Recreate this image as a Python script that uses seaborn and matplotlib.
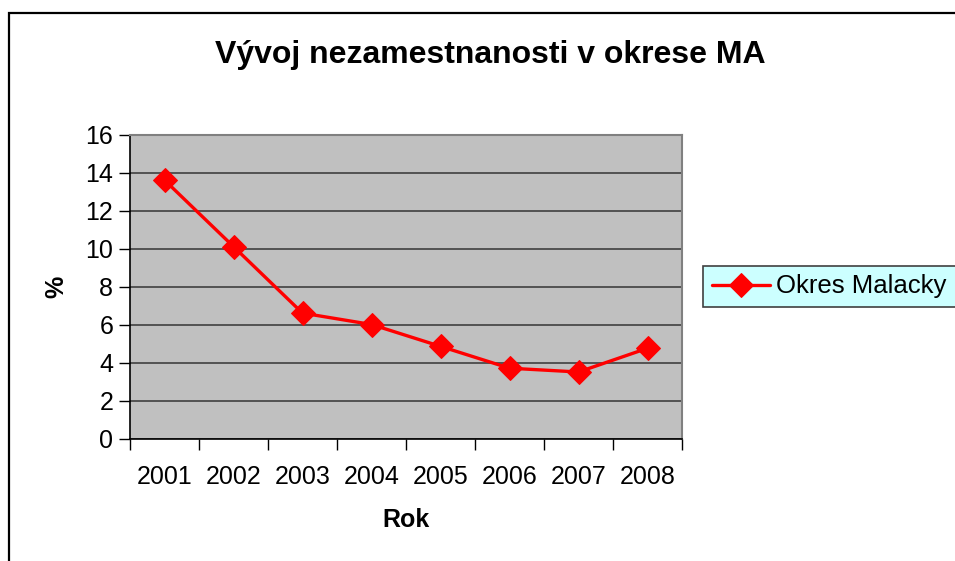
import matplotlib
matplotlib.use('Agg')
import matplotlib.pyplot as plt
import seaborn as sns
import pandas as pd
from matplotlib.patches import Rectangle

# data
years = ['2001', '2002', '2003', '2004', '2005', '2006', '2007', '2008']
unemployment = [13.6, 10.1, 6.6, 6.0, 4.85, 3.7, 3.5, 4.75]
series_name = 'Okres Malacky'

df = pd.DataFrame({'Rok': years, 'pct': unemployment})

sns.set_style('white')
plt.rcParams['font.family'] = ['Liberation Sans', 'DejaVu Sans']
plt.rcParams['text.color'] = 'black'
plt.rcParams['axes.labelcolor'] = 'black'
plt.rcParams['xtick.color'] = 'black'
plt.rcParams['ytick.color'] = 'black'

W, H = 955, 561
fig = plt.figure(figsize=(W / 100, H / 100), dpi=100)

# outer chart border
fig.patches.append(Rectangle((9 / W, -0.1), 1.2, 1 - 13 / H + 0.1, transform=fig.transFigure,
                             fill=False, edgecolor='black', linewidth=1.6))

left, right, top, bottom = 130, 682, 134.5, 438.5
ax = fig.add_axes([left / W, 1 - bottom / H, (right - left) / W, (bottom - top) / H])
ax.set_facecolor('#C0C0C0')

sns.lineplot(data=df, x='Rok', y='pct', ax=ax, color='#FF0000', linewidth=2.4,
             marker='D', markersize=12, markeredgecolor='#FF0000', label=series_name,
             sort=False)

ax.set_xlim(-0.5, len(years) - 0.5)
ax.set_ylim(0, 16)
ax.set_yticks(range(0, 17, 2))
ax.yaxis.grid(True, color='#404040', linewidth=1.2)
ax.set_axisbelow(True)

ax.set_xticks([i - 0.5 for i in range(len(years) + 1)])
ax.set_xticklabels([])
ax.set_xticks(range(len(years)), labels=years, minor=True)
ax.tick_params(axis='x', which='major', length=8, width=1, color='black', direction='out')
ax.tick_params(axis='x', which='minor', length=0, labelsize=18, pad=19)
ax.tick_params(axis='y', length=8, width=1, color='black', direction='out', labelsize=18, pad=4)
ax.tick_params(bottom=True, left=True)

for side in ['top', 'right']:
    ax.spines[side].set_color('#808080')
    ax.spines[side].set_linewidth(1.5)
for side in ['left', 'bottom']:
    ax.spines[side].set_color('black')
    ax.spines[side].set_linewidth(1.2)

ax.set_xlabel('Rok', fontsize=18, fontweight='bold', labelpad=14)
ax.set_ylabel('%', fontsize=18, fontweight='bold', labelpad=12)

fig.text(490 / W, 1 - 55 / H, 'Vývoj nezamestnanosti v okrese MA', ha='center', va='center',
         fontsize=23, fontweight='bold')

leg = ax.legend(loc='center left', bbox_to_anchor=((703 - left) / (right - left), 0.5), fontsize=18.5,
                frameon=True, fancybox=False, borderpad=0.35, handlelength=2.25, handletextpad=0.25,
                borderaxespad=0)
leg.get_frame().set_facecolor('#CCFFFF')
leg.get_frame().set_edgecolor('#404040')
leg.get_frame().set_linewidth(1.2)
leg.get_frame().set_alpha(1)

fig.savefig('out.png', dpi=100)
